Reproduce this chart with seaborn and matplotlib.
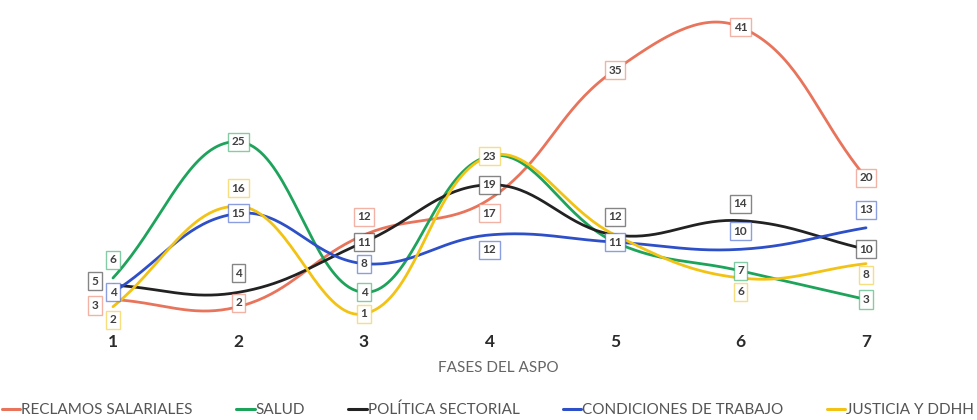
import numpy as np
import pandas as pd
import matplotlib
matplotlib.use("Agg")
import matplotlib.pyplot as plt
from matplotlib.colors import to_rgba
import seaborn as sns

# Cantidad de conflictos por fase del ASPO, según tipo de reclamo
fases = [1, 2, 3, 4, 5, 6, 7]
fase_labels = ["1", "2", "3", "4", "5", "6", "7"]
series = ["RECLAMOS SALARIALES", "SALUD", "POLÍTICA SECTORIAL",
          "CONDICIONES DE TRABAJO", "JUSTICIA Y DDHH"]
reclamos_salariales = [3, 2, 12, 17, 35, 41, 20]
salud = [6, 25, 4, 23, 11, 7, 3]
politica_sectorial = [5, 4, 11, 19, 12, 14, 10]
condiciones_trabajo = [4, 15, 8, 12, 11, 10, 13]
justicia_ddhh = [2, 16, 1, 23, 12, 6, 8]
valores = [reclamos_salariales, salud, politica_sectorial,
           condiciones_trabajo, justicia_ddhh]

colores = ["#E8745C", "#1EA35B", "#222222", "#2D4FC8", "#F2C314"]

# Desplazamientos de etiquetas (px) para evitar superposiciones
nudge = {
    (0, 0): (-18, -6), (1, 0): (0, 18), (2, 0): (-18, 4), (4, 0): (0, -13),
    (4, 1): (0, 18), (2, 1): (0, 19), (0, 1): (0, 4),
    (0, 2): (0, 18),
    (0, 3): (0, -14), (3, 3): (0, -15),
    (2, 4): (0, 18),
    (2, 5): (0, 17), (3, 5): (0, 18), (4, 5): (0, -14),
    (3, 6): (0, 18), (4, 6): (0, -11),
}
ocultas = {(1, 3), (1, 4), (4, 4)}

W, H = 977, 420
fig = plt.figure(figsize=(W / 100, H / 100), dpi=100)
sns.set_style("white")
plt.rcParams["font.family"] = ["Lato", "DejaVu Sans"]

ax_top, ax_bot = 0, 330
ax = fig.add_axes([0, 1 - ax_bot / H, 1, (ax_bot - ax_top) / H])
px_x0, px_x7 = 113, 866
sx = (px_x7 - px_x0) / 6.0
sy = 7.17
y0_px = 321
ax.set_xlim(1 - px_x0 / sx, 7 + (W - px_x7) / sx)
ax.set_ylim(-(ax_bot - y0_px) / sy, (y0_px - ax_top) / sy)


def curva(xs, ys, tension=0.4, n=40):
    """Curva suavizada tipo spline (bezier cúbica por tramos)."""
    P = np.column_stack([np.asarray(xs, float) * sx, np.asarray(ys, float) * sy])
    m = len(P)
    c_prev = P.copy()
    c_next = P.copy()
    for i in range(m):
        p0 = P[i - 1] if i > 0 else P[i]
        p1 = P[i]
        p2 = P[i + 1] if i < m - 1 else P[i]
        d01 = np.hypot(*(p1 - p0))
        d12 = np.hypot(*(p2 - p1))
        tot = d01 + d12
        s01 = d01 / tot if tot else 0
        s12 = d12 / tot if tot else 0
        c_prev[i] = p1 - tension * s01 * (p2 - p0)
        c_next[i] = p1 + tension * s12 * (p2 - p0)
    out = []
    t = np.linspace(0, 1, n)[:, None]
    for i in range(m - 1):
        a, b, c, d = P[i], c_next[i], c_prev[i + 1], P[i + 1]
        seg = ((1 - t) ** 3) * a + 3 * ((1 - t) ** 2) * t * b + 3 * (1 - t) * t ** 2 * c + t ** 3 * d
        out.append(seg if i == 0 else seg[1:])
    out = np.vstack(out)
    return out[:, 0] / sx, out[:, 1] / sy


frames = []
for nombre, vals in zip(series, valores):
    cx, cy = curva(fases, vals)
    frames.append(pd.DataFrame({"fase": cx, "valor": cy, "serie": nombre}))
df = pd.concat(frames, ignore_index=True)

sns.lineplot(data=df, x="fase", y="valor", hue="serie", hue_order=series,
             palette=colores, estimator=None, sort=False,
             linewidth=2.0, ax=ax, legend=True)
handles, labels = ax.get_legend_handles_labels()
ax.get_legend().remove()

# Etiquetas de valores
for si, (vals, col) in enumerate(zip(valores, colores)):
    for i, v in enumerate(vals):
        if (si, i) in ocultas:
            continue
        dx, dy = nudge.get((si, i), (0, 0))
        ax.annotate(str(v), (fases[i], v), xytext=(dx * 0.72, dy * 0.72),
                    textcoords="offset points", ha="center", va="center",
                    fontsize=8.5, color="#404040", fontweight="bold", zorder=5,
                    bbox=dict(boxstyle="square,pad=0.3", fc="white",
                              ec=to_rgba(col, 0.55), lw=1.0))

ax.set_xticks(fases)
ax.set_xticklabels(fase_labels, fontsize=12.5, fontweight="bold", color="#2b2b2b")
ax.tick_params(axis="x", length=0, pad=3)
ax.set_yticks([])
ax.set_xlabel("")
ax.set_ylabel("")
for s in ax.spines.values():
    s.set_visible(False)
ax.patch.set_alpha(0)

fig.text(498 / W, 1 - 368 / H, "FASES DEL ASPO", ha="center", va="center",
         fontsize=11, color="#666666")

for h in handles:
    h.set_linewidth(2.2)
leg = fig.legend(handles, labels, ncol=5, loc="center left",
                 bbox_to_anchor=(2 / W, 1 - 410 / H, 972 / W, 0), mode="expand",
                 frameon=False, handlelength=1.2, handletextpad=0.05,
                 borderaxespad=0, borderpad=0,
                 prop={"size": 11}, labelcolor="#555555")

fig.savefig("out.png", dpi=100, facecolor="white")
